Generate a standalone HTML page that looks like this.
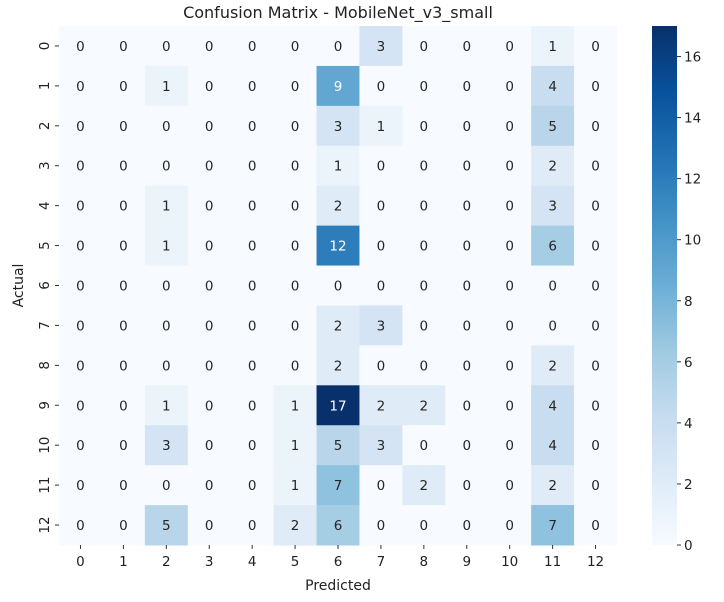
<!DOCTYPE html>
<html><head><meta charset="utf-8"><style>
body{margin:0;background:#fff;font-family:"DejaVu Sans","Liberation Sans",sans-serif;}
</style></head><body>
<svg id="c" width="724" height="598" xmlns="http://www.w3.org/2000/svg" font-family="DejaVu Sans, Liberation Sans, sans-serif">
<defs><linearGradient id="cb" x1="0" y1="1" x2="0" y2="0">
<stop offset="0" stop-color="#f7fbff"/><stop offset="0.125" stop-color="#deebf7"/><stop offset="0.25" stop-color="#c6dbef"/><stop offset="0.375" stop-color="#9ecae1"/><stop offset="0.5" stop-color="#6baed6"/><stop offset="0.625" stop-color="#4292c6"/><stop offset="0.75" stop-color="#2171b5"/><stop offset="0.875" stop-color="#08519c"/><stop offset="1" stop-color="#08306b"/>
</linearGradient></defs>
</svg>
<script>
const labels=["0","1","2","3","4","5","6","7","8","9","10","11","12"];
const matrix=[
[0,0,0,0,0,0,0,3,0,0,0,1,0],
[0,0,1,0,0,0,9,0,0,0,0,4,0],
[0,0,0,0,0,0,3,1,0,0,0,5,0],
[0,0,0,0,0,0,1,0,0,0,0,2,0],
[0,0,1,0,0,0,2,0,0,0,0,3,0],
[0,0,1,0,0,0,12,0,0,0,0,6,0],
[0,0,0,0,0,0,0,0,0,0,0,0,0],
[0,0,0,0,0,0,2,3,0,0,0,0,0],
[0,0,0,0,0,0,2,0,0,0,0,2,0],
[0,0,1,0,0,1,17,2,2,0,0,4,0],
[0,0,3,0,0,1,5,3,0,0,0,4,0],
[0,0,0,0,0,1,7,0,2,0,0,2,0],
[0,0,5,0,0,2,6,0,0,0,0,7,0]];
const cbTicks=[0,2,4,6,8,10,12,14,16];
const NS="http://www.w3.org/2000/svg",svg=document.getElementById('c');
const L=59,T=26,R=617,B=545,n=labels.length,cw=(R-L)/n,ch=(B-T)/n;
let vmax=0;matrix.forEach(r=>r.forEach(v=>{if(v>vmax)vmax=v;}));
const stops=["#f7fbff","#deebf7","#c6dbef","#9ecae1","#6baed6","#4292c6","#2171b5","#08519c","#08306b"].map(h=>[1,3,5].map(i=>parseInt(h.substr(i,2),16)));
function col(v){let t=Math.max(0,Math.min(1,v/vmax))*8,i=Math.min(7,Math.floor(t)),f=t-i;const c=stops[i].map((a,k)=>a+(stops[i+1][k]-a)*f);return c;}
function lin(c){c/=255;return c<=0.03928?c/12.92:Math.pow((c+0.055)/1.055,2.4);}
function mk(tag,a,txt){const e=document.createElementNS(NS,tag);for(const k in a)e.setAttribute(k,a[k]);if(txt!==undefined)e.textContent=txt;svg.appendChild(e);return e;}
matrix.forEach((row,r)=>row.forEach((v,c)=>{
 const cc=col(v);
 const rc=mk('rect',{x:L+c*cw,y:T+r*ch,width:cw+0.5,height:ch+0.5,fill:`rgb(${cc.map(Math.round).join(',')})`});
 
 
 const lum=0.2126*lin(cc[0])+0.7152*lin(cc[1])+0.0722*lin(cc[2]);
 const tx=mk('text',{x:L+(c+0.5)*cw,y:T+(r+0.5)*ch+5,'text-anchor':'middle','font-size':13.5,fill:lum>0.408?'#262626':'#ffffff'},v);
 
 
}));
labels.forEach((lb,i)=>{
 const x=L+(i+0.5)*cw;
 mk('line',{x1:x,y1:B,x2:x,y2:B+4,stroke:'#333'});
 const t=mk('text',{x:x,y:B+21,'text-anchor':'middle','font-size':13.5,fill:'#222'},lb);
 
 
 const y=T+(i+0.5)*ch;
 mk('line',{x1:L-4,y1:y,x2:L,y2:y,stroke:'#333'});
 const t2=mk('text',{x:0,y:0,'text-anchor':'middle','font-size':13.5,fill:'#222',transform:`translate(${L-10},${y}) rotate(-90)`},lb);
 
 
});
const cbL=652,cbR=677;
const cb=mk('rect',{x:cbL,y:T,width:cbR-cbL,height:B-T,fill:'url(#cb)'});


cbTicks.forEach(v=>{
 const y=B-(v/vmax)*(B-T);
 mk('line',{x1:cbR,y1:y,x2:cbR+4,y2:y,stroke:'#333'});
 const t=mk('text',{x:cbR+7,y:y+5,'font-size':13.5,fill:'#222'},v);
 
 
});
const ti=mk('text',{x:(L+R)/2,y:18,'text-anchor':'middle','font-size':16,fill:'#222'},'Confusion Matrix - MobileNet_v3_small');


const xt=mk('text',{x:(L+R)/2,y:590,'text-anchor':'middle','font-size':14,fill:'#222'},'Predicted');


const yt=mk('text',{x:0,y:0,'text-anchor':'middle','font-size':14,fill:'#222',transform:`translate(23,${(T+B)/2}) rotate(-90)`},'Actual');


</script>
</body></html>
